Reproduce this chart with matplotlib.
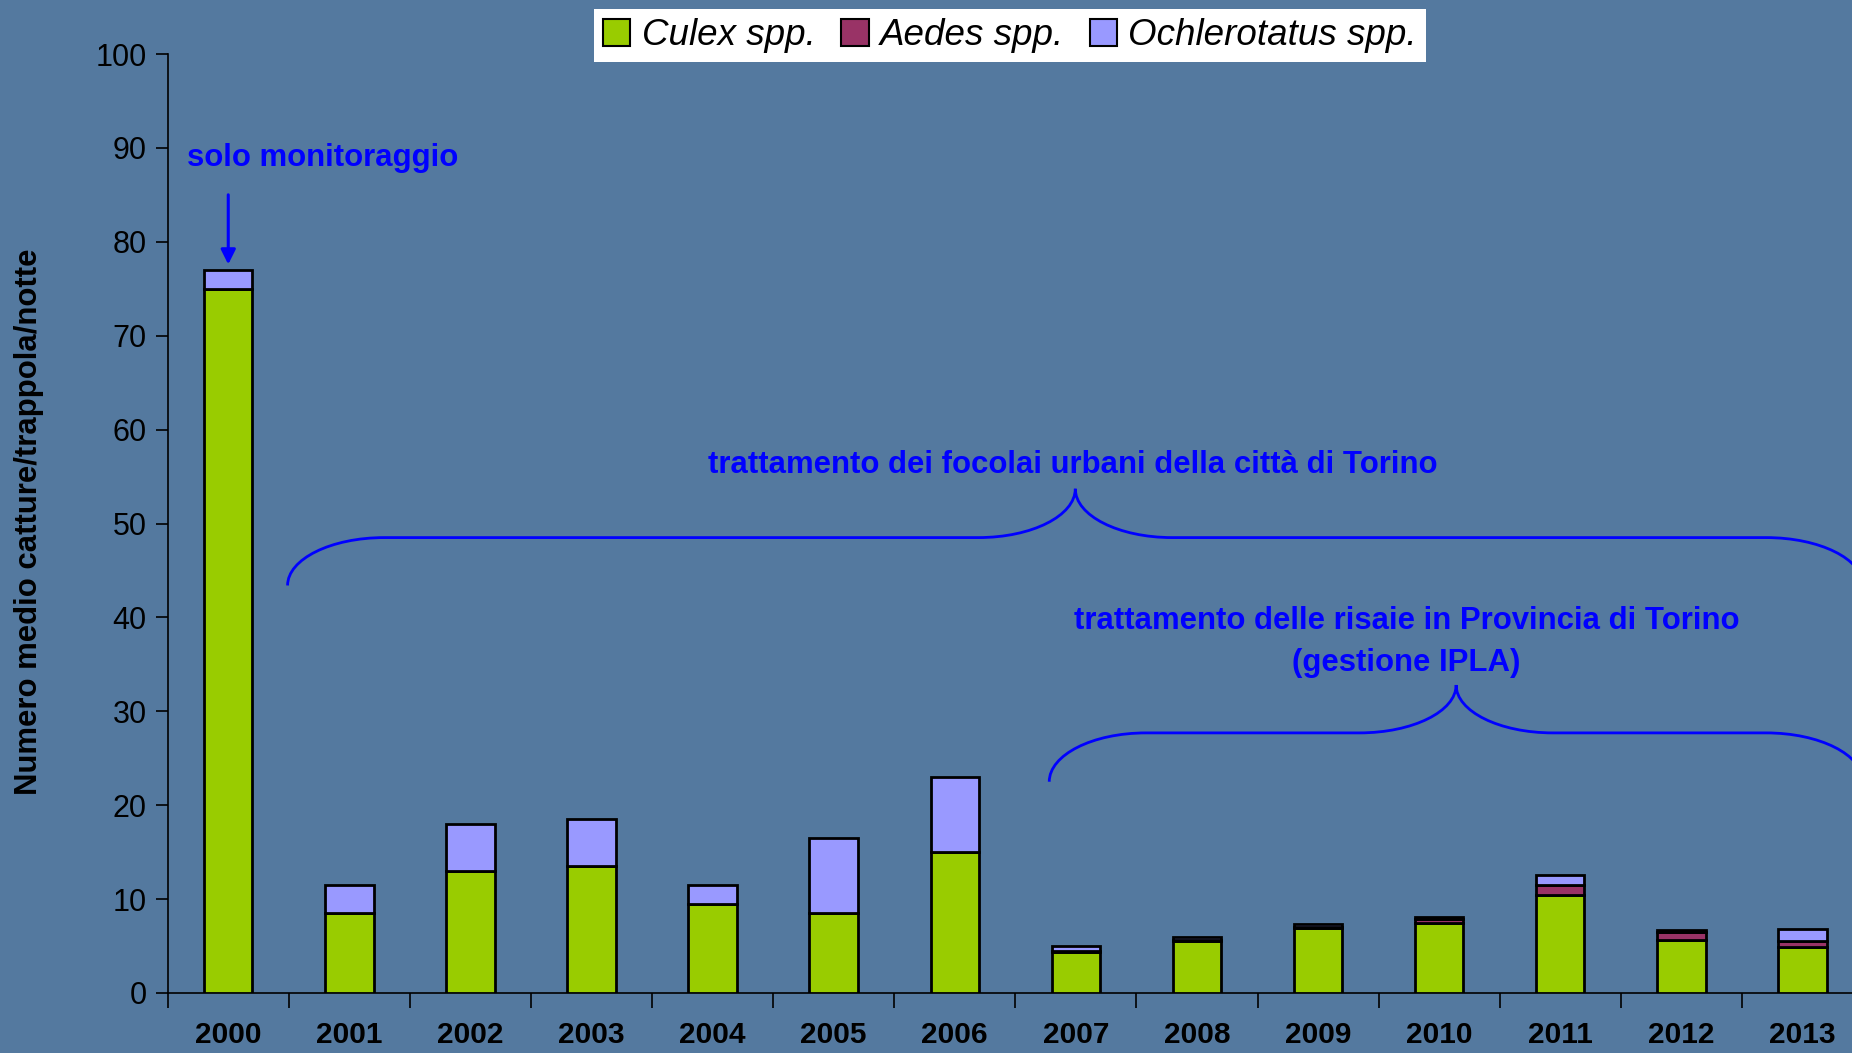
import numpy as np
import matplotlib.pyplot as plt
from matplotlib.path import Path
from matplotlib.patches import PathPatch, Patch

# values
years = ['2000', '2001', '2002', '2003', '2004', '2005', '2006',
         '2007', '2008', '2009', '2010', '2011', '2012', '2013']
culex = [75, 8.5, 13, 13.5, 9.5, 8.5, 15, 4.4, 5.5, 6.9, 7.5, 10.4, 5.6, 4.9]
aedes = [0, 0, 0, 0, 0, 0, 0, 0.1, 0.1, 0.1, 0.4, 1.1, 0.9, 0.6]
ochlerotatus = [2, 3, 5, 5, 2, 8, 8, 0.5, 0.4, 0.3, 0.2, 1.1, 0.25, 1.3]

series_names = ['Culex spp.', 'Aedes spp.', 'Ochlerotatus spp.']
series_colors = ['#99CC00', '#993366', '#9999FF']

bg = '#54799f'
blue = '#0000FF'
plt.rcParams['font.family'] = ['Liberation Sans', 'DejaVu Sans']

fig = plt.figure(figsize=(18.52, 10.53), dpi=100, facecolor=bg)
W, H = 1852, 1053
x0, x1, y0, y1 = 167.7, 1863, 993, 54
ax = fig.add_axes([x0 / W, (H - y0) / H, (x1 - x0) / W, (y0 - y1) / H])
ax.set_facecolor(bg)

x = np.arange(len(years))
bw = 0.40
c = np.array(culex)
a = np.array(aedes)
o = np.array(ochlerotatus)
ax.bar(x, c, bw, color=series_colors[0], edgecolor='black', linewidth=2, zorder=3)
ax.bar(x, a, bw, bottom=c, color=series_colors[1], edgecolor='black', linewidth=2, zorder=3)
ax.bar(x, o, bw, bottom=c + a, color=series_colors[2], edgecolor='black', linewidth=2, zorder=3)

ax.set_xlim(-0.5, len(years) - 0.5)
ax.set_ylim(0, 100)
ax.set_yticks(range(0, 101, 10))
ax.tick_params(axis='y', labelsize=22, length=9, width=1.2, pad=6, colors='black')
ax.set_xticks(np.arange(-0.5, len(years), 1))
ax.set_xticklabels([])
ax.set_xticks(x, minor=True)
ax.set_xticklabels(years, minor=True, fontsize=21.5, fontweight='bold')
ax.tick_params(axis='x', which='major', length=11, width=1.2)
ax.tick_params(axis='x', which='minor', length=0, pad=20)
for s in ['top', 'right']:
    ax.spines[s].set_visible(False)
for s in ['left', 'bottom']:
    ax.spines[s].set_linewidth(1.2)

fig.text(29 / W, 1 - 522 / H, 'Numero medio catture/trappola/notte', fontsize=22.4,
         fontweight='bold', rotation=90, ha='center', va='center')


def brace(ax, xa, xb, yh, dy_end, dy_tip, w):
    xt = (xa + xb) / 2
    k = 0.552
    ye = yh - dy_end
    yt = yh + dy_tip
    verts = [
        (xa, ye), (xa, ye + k * dy_end), (xa + w * (1 - k), yh), (xa + w, yh),
        (xt - w, yh),
        (xt - w + k * w, yh), (xt, yt - k * dy_tip), (xt, yt),
        (xt, yt - k * dy_tip), (xt + w - k * w, yh), (xt + w, yh),
        (xb - w, yh),
        (xb - w * (1 - k), yh), (xb, ye + k * dy_end), (xb, ye),
    ]
    codes = [Path.MOVETO, Path.CURVE4, Path.CURVE4, Path.CURVE4,
             Path.LINETO,
             Path.CURVE4, Path.CURVE4, Path.CURVE4,
             Path.CURVE4, Path.CURVE4, Path.CURVE4,
             Path.LINETO,
             Path.CURVE4, Path.CURVE4, Path.CURVE4]
    ax.add_patch(PathPatch(Path(verts, codes), fill=False, edgecolor=blue,
                           linewidth=2, clip_on=False, zorder=4))


brace(ax, 0.49, 13.5, 48.5, 5.1, 5.2, 0.8)
brace(ax, 6.78, 13.5, 27.7, 5.2, 5.1, 0.8)

ax.annotate('', xy=(0, 77.3), xytext=(0, 85.3),
            arrowprops=dict(arrowstyle='-|>', color=blue, lw=2.2,
                            mutation_scale=22), zorder=5)
ax.text(0.78, 88.9, 'solo monitoraggio', color=blue, fontsize=22.4,
        fontweight='bold', ha='center', va='center')
ax.text(6.97, 56.2, 'trattamento dei focolai urbani della città di Torino',
        color=blue, fontsize=22.4, fontweight='bold', ha='center', va='center')
ax.text(9.73, 37.4, 'trattamento delle risaie in Provincia di Torino\n(gestione IPLA)',
        color=blue, fontsize=22.4, fontweight='bold', ha='center', va='center',
        linespacing=1.5)

handles = [Patch(facecolor=col, edgecolor='black', linewidth=1.5) for col in series_colors]
leg = fig.legend(handles, series_names, loc='upper center',
                 bbox_to_anchor=(1010 / W, 1 - 9 / H), ncol=3, frameon=True,
                 fancybox=False, framealpha=1, edgecolor='white',
                 prop={'size': 26.5, 'style': 'italic'},
                 handlelength=0.75, handleheight=0.75, handletextpad=0.3,
                 columnspacing=0.7, borderpad=0.25, borderaxespad=0)
leg.get_frame().set_linewidth(0)

fig.savefig('out.png', dpi=100, facecolor=bg)
